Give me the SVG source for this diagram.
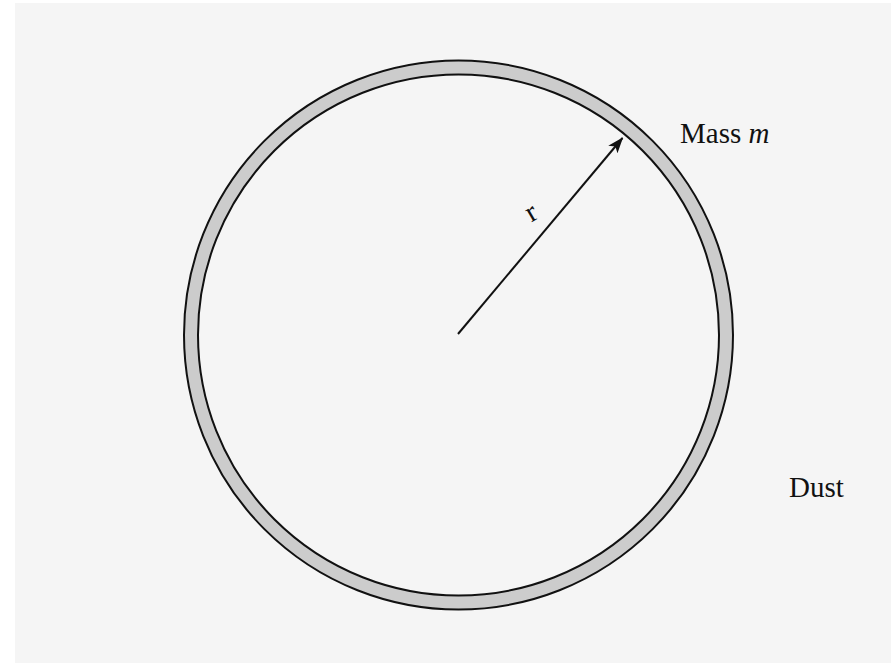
<svg xmlns="http://www.w3.org/2000/svg" width="891" height="663" viewBox="0 0 891 663">
  <style>
    .lbl { font-family: "Liberation Serif", "Times New Roman", serif; font-size: 29px; fill: #111; }
    .ring { stroke: #111; stroke-width: 2; }
  </style>
  <defs>
    <marker id="arrow" viewBox="0 0 16 12" refX="15" refY="6" markerWidth="16" markerHeight="12" markerUnits="userSpaceOnUse" orient="auto">
      <path d="M0,0 L16,6 L0,12 L4,6 Z" fill="#111"/>
    </marker>
  </defs>
  <rect x="0" y="0" width="891" height="663" fill="#ffffff"/>
  <rect x="15" y="3" width="876" height="660" fill="#f5f5f5"/>
  <g id="shell">
    <circle cx="458.5" cy="335" r="274.5" fill="#cccccc" class="ring"/>
    <circle cx="458.5" cy="335" r="260.5" fill="#f5f5f5" class="ring"/>
  </g>
  <g id="connectors">
    <line x1="458" y1="334" x2="622.5" y2="138" stroke="#111" stroke-width="2" marker-end="url(#arrow)"/>
  </g>
  <g id="radius-label">
    <text class="lbl" x="532" y="221" font-size="27" text-anchor="middle" transform="rotate(-30 532 214)">r</text>
  </g>
  <g id="mass">
    <text class="lbl" x="680" y="143">Mass <tspan font-style="italic">m</tspan></text>
  </g>
  <g id="dust">
    <text class="lbl" x="789" y="497">Dust</text>
  </g>
</svg>
